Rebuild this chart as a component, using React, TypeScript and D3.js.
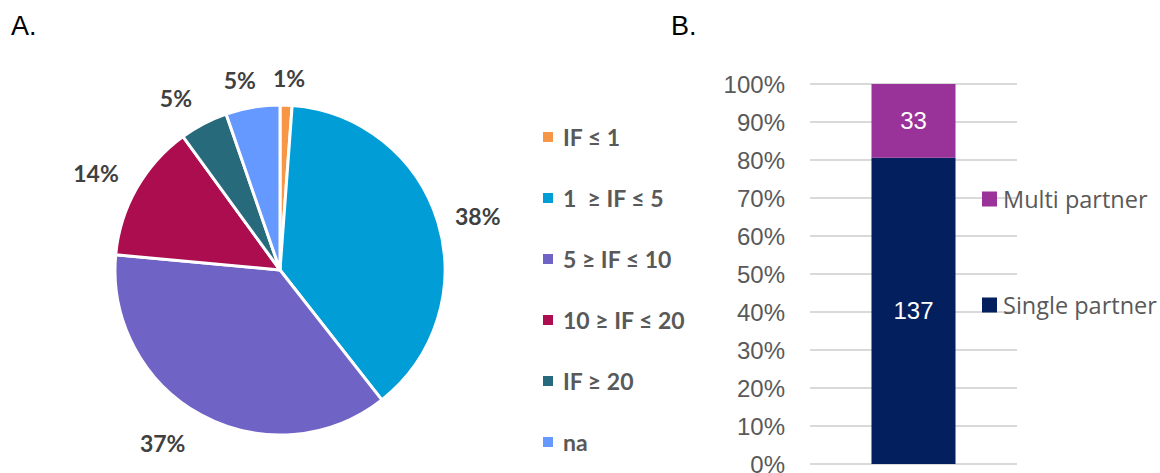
import React from "react";
import * as d3 from "d3";

// Panel A data (counts per impact factor class)
const pieCategories = ["IF ≤ 1", "1  ≥ IF ≤ 5", "5 ≥ IF ≤ 10", "10 ≥ IF ≤ 20", "IF ≥ 20", "na"];
const pieValues = [2, 65, 63, 23, 8, 9];
const pieColors = ["#F79646", "#009DD6", "#6F63C5", "#AC0D4F", "#276A7B", "#6699FF"];

// Panel B data
const barSeries = ["Single partner", "Multi partner"];
const barValues = [137, 33];
const barColors = ["#031F5E", "#993399"];
const yTicks = [0, 0.1, 0.2, 0.3, 0.4, 0.5, 0.6, 0.7, 0.8, 0.9, 1.0];

export default function App() {
  const W = 1160, H = 473;
  // Pie
  const cx = 280, cy = 270, r = 165;
  const total = d3.sum(pieValues);
  const pie = d3.pie<number>().sort(null).value((d) => d);
  const arcs = pie(pieValues);
  const arcGen = d3.arc<d3.PieArcDatum<number>>().innerRadius(0).outerRadius(r);
  const fmt = d3.format(".0%");
  // label layout nudges (outside-end placement)
  const labelGap = [27, 40, 44, 43, 36, 29];
  const labelTurn = [0.01, 0.029, 0.097, -0.032, -0.064, -0.042];

  // Bar
  const y = d3.scaleLinear().domain([0, 1]).range([464, 84]);
  const x = d3.scaleBand().domain(["all"]).range([810, 1017]).paddingInner(0).paddingOuter(0.732);
  const barTotal = d3.sum(barValues);
  const stack = d3.stack<any>().keys(barSeries)([
    Object.fromEntries(barSeries.map((k, i) => [k, barValues[i] / barTotal])),
  ]);

  return (
    <svg width={W} height={H} style={{ position: "absolute", left: 0, top: 0 }}>
      <rect width={W} height={H} fill="#fff" />
      <text x={11} y={35} fontFamily="Liberation Sans, Arial" fontSize={27} fill="#000">A.</text>
      <text x={671} y={35} fontFamily="Liberation Sans, Arial" fontSize={27} fill="#000">B.</text>

      <g transform={`translate(${cx},${cy})`}>
        {arcs.map((a, i) => (
          <path key={i} d={arcGen(a) || ""} fill={pieColors[i]} stroke="#fff" strokeWidth={3} strokeLinejoin="round" />
        ))}
        {arcs.map((a, i) => {
          const ang = (a.startAngle + a.endAngle) / 2 + labelTurn[i];
          const lr = r + labelGap[i];
          const px = Math.sin(ang) * lr;
          const py = -Math.cos(ang) * lr;
          return (
            <text key={i} x={px} y={py} textAnchor="middle" dominantBaseline="central"
              fontFamily="Lato, Open Sans, sans-serif" fontWeight={700} fontSize={23} fill="#404040">
              {fmt(a.data / total)}
            </text>
          );
        })}
      </g>

      {pieCategories.map((c, i) => (
        <g key={c} transform={`translate(543,${137 + i * 61})`}>
          <rect x={0} y={-5} width={10} height={10} fill={pieColors[i]} />
          <text x={20} y={0} dominantBaseline="central" fontFamily="Lato, Open Sans, sans-serif"
            fontWeight={700} fontSize={23} fill="#595959" style={{ whiteSpace: "pre" }}>{c}</text>
        </g>
      ))}

      {yTicks.map((t) => (
        <g key={t}>
          <line x1={810} x2={1017} y1={y(t)} y2={y(t)} stroke="#D9D9D9" strokeWidth={2} />
          <text x={785} y={y(t)} textAnchor="end" dominantBaseline="central"
            fontFamily="Liberation Sans, Arial" fontSize={24} fill="#595959">{fmt(t)}</text>
        </g>
      ))}

      {stack.map((s, i) => {
        const d = s[0];
        const bx = x("all") || 0;
        const bw = x.bandwidth();
        return (
          <g key={s.key}>
            <rect x={bx} width={bw} y={y(d[1])} height={y(d[0]) - y(d[1])} fill={barColors[i]} />
            <text x={bx + bw / 2} y={y((d[0] + d[1]) / 2)} textAnchor="middle"
              dominantBaseline="central" fontFamily="Liberation Sans, Arial" fontSize={24} fill="#fff">
              {barValues[i]}
            </text>
          </g>
        );
      })}

      {barSeries.map((sName, i) => {
        const ly = i === 0 ? 305 : 199;
        return (
          <g key={sName}>
            <rect x={982} y={ly - 7.5} width={15} height={15} fill={barColors[i]} />
            <text x={1003} y={ly} dominantBaseline="central" fontFamily="Open Sans, sans-serif"
              fontSize={23.5} fill="#595959">{sName}</text>
          </g>
        );
      })}
    </svg>
  );
}
